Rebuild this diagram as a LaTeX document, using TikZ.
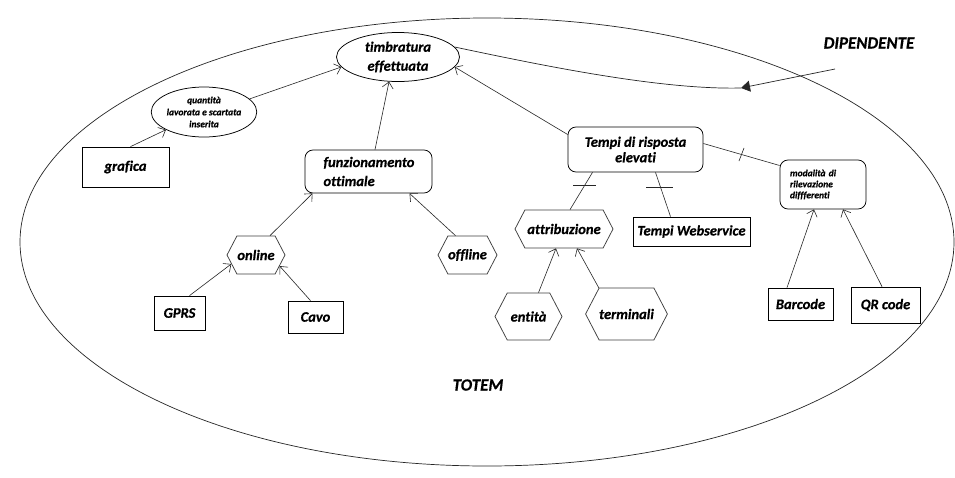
\documentclass[tikz,border=0pt]{standalone}
\usepackage{fontspec}
\setmainfont{Carlito}[Ligatures=NoCommon, BoldItalicFont={Carlito Bold Italic},
  BoldItalicFeatures={FakeBold=0.6}]
\usetikzlibrary{shapes.geometric,shapes.symbols,arrows.meta,calc}
\begin{document}
\begin{tikzpicture}[x=1pt,y=-1pt,
  every node/.style={font=\bfseries\itshape\fontsize{14.5}{18}\selectfont, inner sep=0pt},
  small/.style={font=\bfseries\itshape\fontsize{9.5}{12}\selectfont},
  ln/.style={draw=black, line width=0.75pt},
  box/.style={ln, rectangle},
  rbox/.style={ln, rectangle, rounded corners=8pt},
  oval/.style={ln, ellipse},
  hexa/.style={draw=black!75, line width=0.75pt, signal, signal to=east and west,
    signal pointer angle=125},
  arr/.style={line width=0.6pt, draw=black!85, -{Straight Barb[length=6pt,width=11pt]}},
  link/.style={line width=0.6pt, draw=black!85},
  tick/.style={line width=0.6pt, draw=black!85}
]
\useasboundingbox (0,0) rectangle (955,477);
\fill[white] (0,0) rectangle (955,477);

% system boundary
\draw[line width=0.7pt, black!85] (487,242) ellipse [x radius=467, y radius=224];

% nodes
\node[oval, minimum width=123, minimum height=49, align=center,
  font=\bfseries\itshape\fontsize{14.5}{19}\selectfont] (timb) at (398,57) {timbratura\\effettuata};
\node[oval, small, minimum width=98, minimum height=50, align=center] (qua) at (204,112) {quantità\\lavorata e scartata\\inserita};
\node[box, minimum width=87, minimum height=40] (graf) at (125.5,167) {grafica};
\node[rbox, minimum width=127, minimum height=43, text width=90, align=left,
  font=\bfseries\itshape\fontsize{14.5}{19}\selectfont] (funz) at (368.5,171.5) {funzionamento\\ottimale};
\node[hexa, minimum width=58, minimum height=38] (online) at (256,255) {online};
\node[hexa, minimum width=59, minimum height=38] (offline) at (467.5,255) {offline};
\node[box, minimum width=51, minimum height=34] (gprs) at (179.5,313) {GPRS};
\node[box, minimum width=55, minimum height=32] (cavo) at (315.5,317) {Cavo};
\node[rbox, minimum width=135, minimum height=45, align=center,
  font=\bfseries\itshape\fontsize{14.5}{15.5}\selectfont] (tempi) at (635.5,149.5) {Tempi di risposta\\elevati};
\node[hexa, minimum width=98, minimum height=38] (attr) at (564,229) {attribuzione};
\node[box, minimum width=117, minimum height=29] (tw) at (691.5,231.5) {Tempi Webservice};
\node[hexa, minimum width=67, minimum height=47] (ent) at (528.5,316.5) {entità};
\node[hexa, minimum width=77, minimum height=52] (term) at (626.5,314) {terminali};
\node[rbox, small, minimum width=86, minimum height=49, text width=66, align=left,
  font=\bfseries\itshape\fontsize{9.5}{11}\selectfont] (mod) at (823,184.5) {modalità di\\rilevazione\\diffferenti};
\node[box, minimum width=65, minimum height=32] (bar) at (800.5,304) {Barcode};
\node[box, minimum width=69, minimum height=36] (qr) at (885.5,305) {QR code};

\node[font=\bfseries\itshape\fontsize{17}{18}\selectfont] (dip) at (869,43) {DIPENDENTE};
\node[font=\bfseries\itshape\fontsize{17}{18}\selectfont] (totem) at (478,385) {TOTEM};

% connectors
\draw[arr] (qua.16) -- (timb.190);
\draw[arr] ([xshift=5pt]graf.north) -- (qua.205);
\draw[arr] ([xshift=6.5pt]funz.north) -- (timb.250);
\draw[arr] ([xshift=14pt]online.north) -- ([xshift=-56pt]funz.south);
\draw[arr] ([xshift=-12pt]offline.north) -- ([xshift=41pt]funz.south);
\draw[arr] ([xshift=10pt]gprs.north) -- (online.200);
\draw[arr] ([xshift=-5pt]cavo.north) -- (online.-25);
\draw[arr] ([yshift=15pt]tempi.west) -- (timb.-10);
\draw[arr] ([xshift=10pt]ent.north) -- ([xshift=-8pt]attr.south);
\draw[arr] (term.north west) -- ([xshift=13pt]attr.south);
\draw[arr] ([xshift=-13.5pt]bar.north) -- ([xshift=-9pt]mod.south);
\draw[arr] ([xshift=-3.5pt]qr.north) -- ([xshift=20pt]mod.south);

% links carrying a cross bar
\draw[link] ([xshift=-43pt]tempi.south) -- coordinate[pos=0.35] (t1) ([xshift=6pt]attr.north);
\draw[tick] ([xshift=-11.5pt]t1) -- ([xshift=11.5pt]t1);
\draw[link] ([xshift=20pt]tempi.south) -- coordinate[pos=0.33] (t2) ([xshift=-21pt]tw.north);
\draw[tick] ([xshift=-14pt]t2) -- ([xshift=13pt]t2);
\draw[link] ([yshift=6pt]tempi.east) -- coordinate[pos=0.5] (t3) ([yshift=19pt]mod.west);
\draw[tick] ([shift={(2.5,-6.5)}]t3) -- ([shift={(-2.5,6.5)}]t3);

% actor link entering from outside
\coordinate (dsrc) at (835,69);
\coordinate (dmid) at (741,88);
\draw[line width=0.7pt, black!85, -{Triangle[length=9pt,width=11pt]}] (dsrc) -- (dmid);
\draw[line width=0.7pt, black!85] (dmid) .. controls (660,90) and (540,65) .. (timb.10);
\end{tikzpicture}
\end{document}
